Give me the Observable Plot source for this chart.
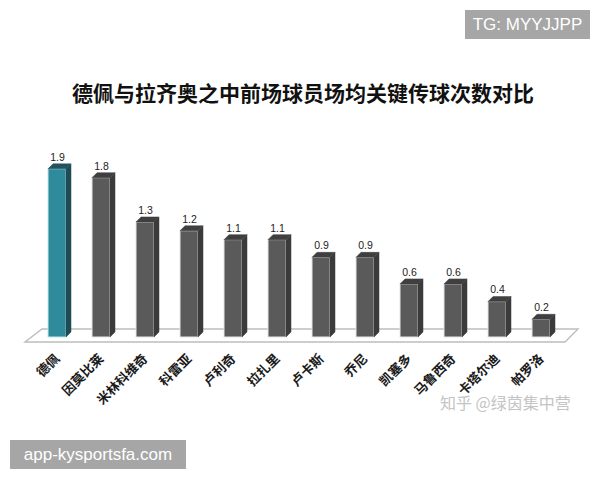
<!DOCTYPE html>
<html>
<head>
<meta charset="utf-8">
<script src="https://cdn.jsdelivr.net/npm/d3@7"></script>
<script src="https://cdn.jsdelivr.net/npm/@observablehq/plot@0.6"></script>
<style>
  html, body { margin: 0; padding: 0; background: #fff; }
  #wrap { position: relative; width: 600px; height: 480px; overflow: hidden; background: #fff; }
  #chart { position: absolute; left: 0; top: 0; }
  .title { position: absolute; left: 0; top: 81px; width: 606px; text-align: center;
    font-family: "Noto Sans CJK SC", sans-serif; font-size: 21px; line-height: 22px; font-weight: 700; color: #111; }
  .tag { position: absolute; background: #a6a6a6; color: #fff; font-family: "Liberation Sans", Arial, sans-serif;
    font-size: 17px; display: flex; align-items: center; justify-content: center; }
  .wm { position: absolute; left: 440px; top: 390px; font-family: "Noto Sans CJK SC", sans-serif;
    font-size: 16px; color: #c4c4c4; white-space: nowrap; }
</style>
</head>
<body>
<div id="wrap">
  <div id="chart"></div>
  <div class="title" id="title"></div>
  <div class="tag" style="left:465px;top:10px;width:125px;height:29px;">TG: MYYJJPP</div>
  <div class="tag" style="left:10px;top:440px;width:176px;height:29px;">app-kysportsfa.com</div>
  <div class="wm">知乎 @绿茵集中营</div>
</div>
<script>
const titleText = "德佩与拉齐奥之中前场球员场均关键传球次数对比";
const players = ["德佩","因莫比莱","米林科维奇","科雷亚","卢利奇","拉扎里","卢卡斯","乔尼","凯塞多","马鲁西奇","卡塔尔迪","帕罗洛"];
const keyPasses = [1.9, 1.8, 1.3, 1.2, 1.1, 1.1, 0.9, 0.9, 0.6, 0.6, 0.4, 0.2];
const highlight = "德佩";

const colors = {
  hiFront: "#2f8a9c", hiSide: "#1d4b56", hiTop: "#22535e", hiEdge: "#bfe9f0",
  front: "#5a5a5a", side: "#3b3b3b", top: "#3f3f3f", edge: "#e6e6e6",
  floor: "#bdbdbd"
};

document.getElementById("title").textContent = titleText;

const data = players.map((p, i) => ({player: p, value: keyPasses[i]}));
const depth = 5;

// floor (perspective base) drawn through the scales
function floorMark(index, scales, values, dims) {
  const {x, y} = scales;
  const [r0, r1] = x.range();
  const y0 = y(0);
  const g = d3.create("svg:g");
  g.append("path")
    .attr("d", `M${r0 + 4},${y0 + 5}L${r1 - 12},${y0 + 5}L${r1 + 1},${y0 - 8}L${r0 + 21},${y0 - 8}Z`)
    .attr("fill", "#fff")
    .attr("stroke", colors.floor)
    .attr("stroke-width", 1.4);
  return g.node();
}

// side and top faces of each 3D bar, computed from the scales
function facesMark(index, scales, values, dims) {
  const {x, y} = scales;
  const bw = x.bandwidth ? x.bandwidth() : 19;
  const y0 = y(0);
  const g = d3.create("svg:g");
  data.forEach(d => {
    const xl = x(d.player), xr = xl + bw, yt = y(d.value);
    const hi = d.player === highlight;
    g.append("path")
      .attr("d", `M${xr},${y0}L${xr + depth},${y0 - depth}L${xr + depth},${yt - depth}L${xr},${yt}Z`)
      .attr("fill", hi ? colors.hiSide : colors.side)
      .attr("stroke", hi ? colors.hiSide : colors.side).attr("stroke-width", 0.5);
    g.append("path")
      .attr("d", `M${xl},${yt}L${xr},${yt}L${xr + depth},${yt - depth}L${xl + depth},${yt - depth}Z`)
      .attr("fill", hi ? colors.hiTop : colors.top)
      .attr("stroke", hi ? colors.hiTop : colors.top).attr("stroke-width", 0.5);
  });
  return g.node();
}

const chart = Plot.plot({
  width: 600,
  height: 480,
  marginLeft: 21,
  marginRight: 23,
  marginTop: 160,
  marginBottom: 143,
  style: {background: "transparent", fontFamily: "'Noto Sans CJK SC', sans-serif"},
  x: {domain: players, paddingInner: 0.58, paddingOuter: 0.5, label: null},
  y: {domain: [0, 2], axis: null},
  color: {type: "identity"},
  marks: [
    floorMark,
    Plot.barY(data, {
      x: "player", y: "value",
      fill: d => d.player === highlight ? colors.hiFront : colors.front,
      stroke: d => d.player === highlight ? colors.hiEdge : colors.edge,
      strokeWidth: 1
    }),
    facesMark,
    Plot.text(data, {
      x: "player", y: "value", text: d => d.value.toFixed(1),
      dy: -12, fontSize: 10.5, fill: "#222",
      fontFamily: "'Liberation Sans', Arial, sans-serif"
    }),
    Plot.axisX({
      tickRotate: -45, tickSize: 0, tickPadding: 19,
      fontSize: 13, fill: "#1a1a1a", fontWeight: 600, label: null
    })
  ]
});
document.getElementById("chart").appendChild(chart);
</script>
</body>
</html>
